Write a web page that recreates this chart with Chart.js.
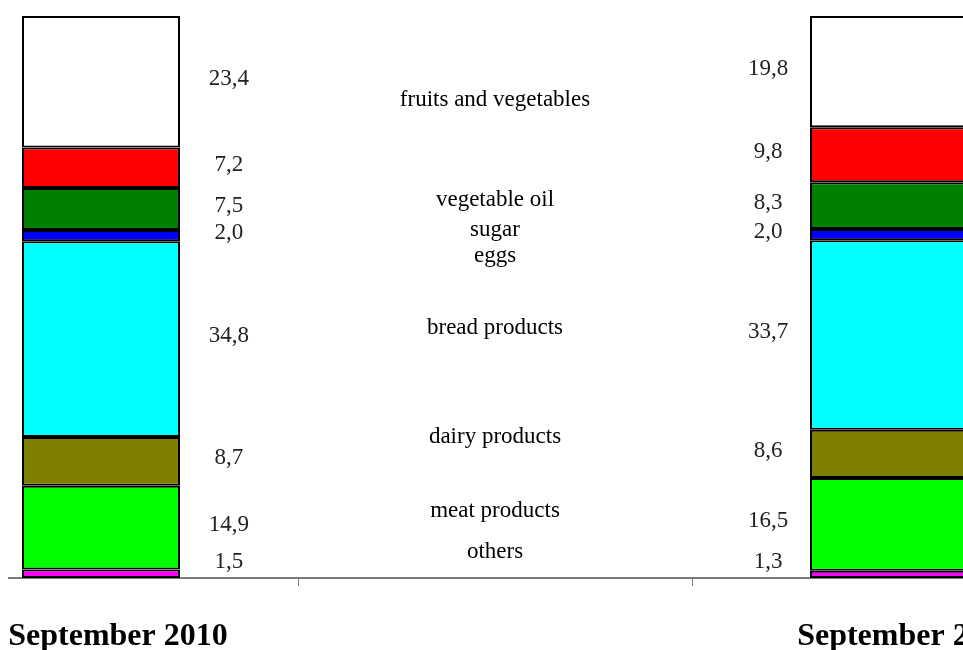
<!DOCTYPE html>
<html>
<head>
<meta charset="utf-8">
<script src="https://cdn.jsdelivr.net/npm/chart.js@4"></script>
<style>
  html, body { margin: 0; padding: 0; background: #fff; overflow: hidden; width: 963px; height: 650px; }
  #wrap { position: absolute; left: -96px; top: 0; width: 1182px; height: 650px; }
</style>
</head>
<body>
<div id="wrap"><canvas id="myChart" width="1182" height="650"></canvas></div>
<script>
// categories (middle slot holds the captions only)
const categories = ['September 2010', '', 'September 2011'];

// shares, %, bottom to top of each column
const others = [1.5, null, 1.3];
const meatProducts = [14.9, null, 16.5];
const dairyProducts = [8.7, null, 8.6];
const breadProducts = [34.8, null, 33.7];
const eggs = [2.0, null, 2.0];
const vegetableOil = [7.5, null, 8.3];
const sugar = [7.2, null, 9.8];
const fruitsVegetables = [23.4, null, 19.8];

// captions in the middle, top to bottom, and the level (in %) they sit at
const captions = ['fruits and vegetables', 'vegetable oil', 'sugar', 'eggs',
  'bread products', 'dairy products', 'meat products', 'others'];
const captionLevels = [85.1, 67.3, 61.9, 57.3, 44.5, 25.1, 11.9, 4.6];

const serif = "'Liberation Serif', 'Times New Roman', serif";

function ds(label, data, color) {
  return {
    label: label,
    data: data,
    backgroundColor: color,
    borderColor: '#000',
    borderWidth: 2,
    borderSkipped: false,
    categoryPercentage: 1,
    barPercentage: 0.401
  };
}

// axis line that starts a little in from the left, like the original
const axisLine = {
  id: 'axisLine',
  beforeDatasetsDraw(chart) {
    const ctx = chart.ctx;
    const a = chart.chartArea;
    ctx.save();
    ctx.strokeStyle = '#7a7a7a';
    ctx.lineWidth = 2;
    ctx.beginPath();
    ctx.moveTo(104, a.bottom);
    ctx.lineTo(a.right, a.bottom);
    ctx.stroke();
    ctx.restore();
  }
};

const textLabels = {
  id: 'textLabels',
  afterDatasetsDraw(chart) {
    const ctx = chart.ctx;
    const a = chart.chartArea;
    ctx.save();
    ctx.font = '23px ' + serif;
    ctx.textAlign = 'center';
    ctx.textBaseline = 'middle';
    ctx.fillStyle = '#222';
    chart.data.datasets.forEach((d, i) => {
      const meta = chart.getDatasetMeta(i);
      d.data.forEach((v, j) => {
        if (v === null) return;
        const el = meta.data[j];
        let y = (el.y + el.base) / 2 - 3;
        y = Math.min(y, a.bottom - 16);
        const x = j === 0 ? el.x + el.width / 2 + 49 : el.x - el.width / 2 - 42;
        ctx.fillText(v.toFixed(1).replace('.', ','), x, y);
      });
    });
    const xs = chart.scales.x, ys = chart.scales.y;
    ctx.fillStyle = '#000';
    captions.forEach((c, i) => {
      ctx.fillText(c, xs.getPixelForValue(1), ys.getPixelForValue(captionLevels[i]));
    });
    ctx.restore();
  }
};

const ctx = document.getElementById('myChart').getContext('2d');
const myChart = new Chart(ctx, {
  type: 'bar',
  data: {
    labels: categories,
    datasets: [
      ds('others', others, '#ff00ff'),
      ds('meat products', meatProducts, '#00ff00'),
      ds('dairy products', dairyProducts, '#808000'),
      ds('bread products', breadProducts, '#00ffff'),
      ds('eggs', eggs, '#0000ff'),
      ds('vegetable oil', vegetableOil, '#008000'),
      ds('sugar', sugar, '#ff0000'),
      ds('fruits and vegetables', fruitsVegetables, '#ffffff')
    ]
  },
  options: {
    responsive: false,
    animation: false,
    layout: { padding: { top: 16, left: 0, right: 0, bottom: 0 } },
    plugins: { legend: { display: false }, tooltip: { enabled: false } },
    scales: {
      x: {
        stacked: true,
        offset: true,
        afterFit: (scale) => { scale.height = 72; },
        border: { display: false },
        grid: { offset: true, drawOnChartArea: false, tickLength: 8, color: '#7a7a7a', lineWidth: 1 },
        ticks: {
          color: '#000',
          font: { family: serif, size: 32, weight: 'bold' },
          padding: 32,
          labelOffset: 17,
          maxRotation: 0,
          autoSkip: false
        }
      },
      y: { stacked: true, display: false, min: 0, max: 100 }
    }
  },
  plugins: [axisLine, textLabels]
});
</script>
</body>
</html>
